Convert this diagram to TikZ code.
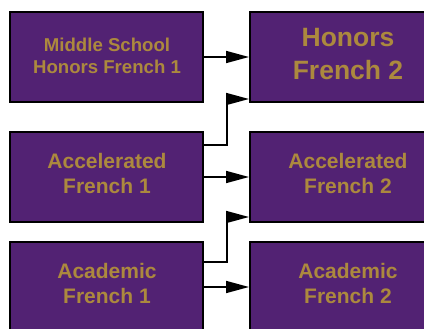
\documentclass[tikz,border=0pt]{standalone}
\usepackage{fontspec}
\setmainfont{Liberation Sans}
\usetikzlibrary{arrows.meta}
\definecolor{frpurple}{RGB}{82,34,115}
\definecolor{frgold}{RGB}{172,137,62}
\begin{document}
\begin{tikzpicture}[x=1pt,y=-1pt,
  box/.style={draw=black,line width=2pt,fill=frpurple,minimum height=90pt,inner sep=0pt},
  lbox/.style={box,minimum width=193pt},
  rbox/.style={box,minimum width=196pt},
  txt/.style={text=frgold,font=\bfseries\fontsize{21}{25}\selectfont,align=center,inner sep=0pt},
  conn/.style={draw=black,line width=1.6pt,-{Triangle[length=23pt,width=12pt]}}]
\useasboundingbox (0,0) rectangle (424,329);
\fill[white] (0,0) rectangle (424,329);
% boxes
\node[lbox] (L1) at (106.5,57) {};
\node[rbox] (R1) at (348,57) {};
\node[lbox] (L2) at (106.5,177) {};
\node[rbox] (R2) at (348,177) {};
\node[lbox] (L3) at (106.5,287) {};
\node[rbox] (R3) at (348,287) {};
% texts
\node[txt,font=\bfseries\fontsize{18.6}{22}\selectfont] (T1) at (107,55.5) {Middle School\\Honors French 1};
\node[txt,font=\bfseries\fontsize{26.5}{33}\selectfont] (T2) at (348,54.5) {Honors\\French 2};
\node[txt] (T3) at (107,173) {Accelerated\\French 1};
\node[txt] (T4) at (348,173) {Accelerated\\French 2};
\node[txt] (T5) at (107,283.5) {Academic\\French 1};
\node[txt] (T6) at (348,283.5) {Academic\\French 2};
% connectors
\draw[conn] (L1.east) -- (R1.west);
\draw[conn] ([yshift=32pt]L2.east) -- ++(23,0) |- ([yshift=-42pt]R1.west);
\draw[conn] (L2.east) -- (R2.west);
\draw[conn] ([yshift=25pt]L3.east) -- ++(23,0) |- ([yshift=-40pt]R2.west);
\draw[conn] (L3.east) -- (R3.west);
\end{tikzpicture}
\end{document}
